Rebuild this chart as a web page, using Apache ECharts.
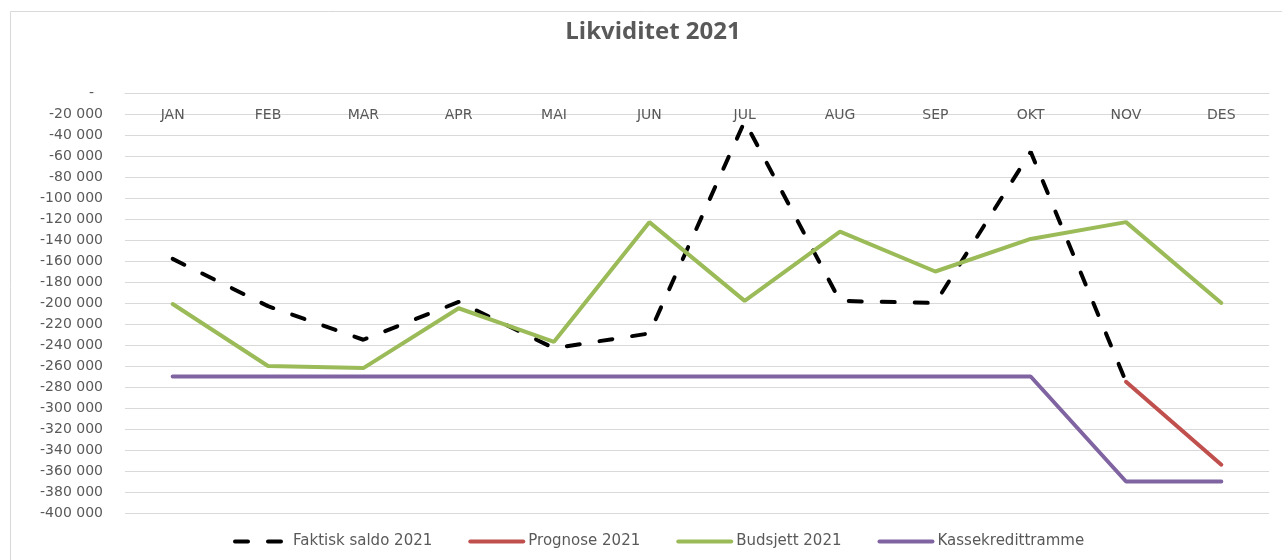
<!DOCTYPE html>
<html>
<head>
<meta charset="utf-8">
<script src="https://cdn.jsdelivr.net/npm/echarts@6/dist/echarts.min.js"></script>
<style>
  html, body { margin: 0; padding: 0; background: #fff; }
  #chart { width: 1282px; height: 560px; }
</style>
</head>
<body>
<div id="chart"></div>
<script>
// Likviditet 2021

const months = ['JAN', 'FEB', 'MAR', 'APR', 'MAI', 'JUN', 'JUL', 'AUG', 'SEP', 'OKT', 'NOV', 'DES'];

const faktisk = [-158000, -203000, -235000, -199000, -243000, -229000, -27000, -198000, -200000, -56000, -275000, null];
const prognose = [null, null, null, null, null, null, null, null, null, null, -275000, -354000];
const budsjett = [-201000, -260000, -262000, -205000, -237000, -123000, -198000, -132000, -170000, -139000, -123000, -200000];
const kassekreditt = [-270000, -270000, -270000, -270000, -270000, -270000, -270000, -270000, -270000, -270000, -370000, -370000];

const font = 'DejaVu Sans';
const txt = '#595959';

let fmt = (v) => {
    if (v === 0) return '-  ';
    let s = String(Math.abs(v)).replace(/\B(?=(\d{3})+(?!\d))/g, ' ');
    return (v < 0 ? '-' : '') + s;
};

let line = (name, data, color, type) => ({
    name: name,
    type: 'line',
    data: data,
    symbol: 'none',
    connectNulls: false,
    lineStyle: { color: color, width: 4, type: type || 'solid', cap: 'round' },
    itemStyle: { color: color }
});

option = {
    animation: false,
    title: {
        text: 'Likviditet 2021',
        left: 648,
        textAlign: 'center',
        top: 15,
        textStyle: { fontFamily: 'Open Sans', fontWeight: 'bold', fontSize: 24, color: txt }
    },
    graphic: [{
        type: 'rect',
        shape: { x: 10.5, y: 11.5, width: 1400, height: 700 },
        style: { fill: 'none', stroke: '#d9d9d9', lineWidth: 1 },
        silent: true
    }],
    legend: {
        bottom: 6,
        left: 228,
        itemWidth: 53,
        itemHeight: 14,
        itemGap: 36,
        itemStyle: { opacity: 0 },
        lineStyle: { width: 4 },
        textStyle: { fontFamily: font, fontSize: 15, color: txt },
        data: ['Faktisk saldo 2021', 'Prognose 2021', 'Budsjett 2021', 'Kassekredittramme']
    },
    grid: {
        left: 125,
        right: 13,
        top: 93,
        bottom: 47,
        containLabel: false
    },
    xAxis: {
        type: 'category',
        data: months,
        position: 'top',
        boundaryGap: true,
        axisLine: { lineStyle: { color: '#d9d9d9', width: 1 } },
        axisTick: { show: false },
        axisLabel: { inside: true, margin: 15, fontFamily: font, fontSize: 14, color: txt }
    },
    yAxis: {
        type: 'value',
        min: -400000,
        max: 0,
        interval: 20000,
        axisLine: { show: false },
        axisTick: { show: false },
        splitLine: { lineStyle: { color: '#d9d9d9', width: 1 } },
        axisLabel: { margin: 22, fontFamily: font, fontSize: 14, color: txt, formatter: fmt }
    },
    series: [
        line('Faktisk saldo 2021', faktisk, '#000000', [13, 20]),
        line('Prognose 2021', prognose, '#C0504D'),
        line('Budsjett 2021', budsjett, '#9BBB59'),
        line('Kassekredittramme', kassekreditt, '#8064A2')
    ]
};

var myChart = echarts.init(document.getElementById('chart'));
myChart.setOption(option);
</script>
</body>
</html>
